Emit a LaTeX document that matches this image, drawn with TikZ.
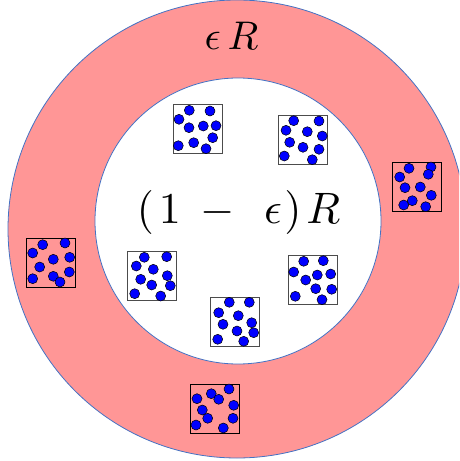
\documentclass[tikz,border=0pt]{standalone}
\usepackage{tikz}
\usetikzlibrary{positioning}
\definecolor{ringpink}{RGB}{255,150,150}
\definecolor{edgeblue}{RGB}{68,114,196}

\begin{document}
\begin{tikzpicture}[x=1pt, y=-1pt,
    ring/.style={fill=ringpink, draw=edgeblue, line width=0.8pt},
    hole/.style={fill=white, draw=edgeblue, line width=0.8pt},
    cell/.style={draw=black!70, rectangle, minimum width=49pt, minimum height=49pt, inner sep=0pt, line width=0.9pt},
    shellcell/.style={cell, draw=black},
    particle/.style={draw=black, fill=blue, line width=0.5pt},
    label/.style={anchor=base, inner sep=0pt},
]

\useasboundingbox (0,0) rectangle (459,461);
\clip (0,0) rectangle (459,461);

% Shell and core
\draw[ring] (237,229) circle (229pt);
\draw[hole] (238,221) circle (143pt);

\node[label, scale=4.0] (shell) at (231.5,49) {$\epsilon\mkern3mu R$};
\node[label, scale=4.4] (core) at (238.5,223) {$(\mkern2mu 1\mkern4mu-\mkern8mu\epsilon\mkern1mu)\mkern2mu R$};

% Cells inside the core
\node[cell] (c1) at (197.5,129.3) {};
\node[cell] (c2) at (303.3,139.8) {};
\node[cell] (c3) at (151.8,276.2) {};
\node[cell] (c4) at (313.2,279.8) {};
\node[cell] (c5) at (234.7,321.7) {};

% Cells in the shell
\node[shellcell] (s1) at (417.2,186.8) {};
\node[shellcell] (s2) at (51,262.5) {};
\node[shellcell] (s3) at (214.5,408.8) {};

% Particles
\foreach \x/\y in {189.3/110.3, 210/111, 179/119.3, 189/127.7, 203.3/126, 216/125.7, 212.7/137.7, 178.3/145.7, 193.7/142.7, 206/148.7}
  \draw[particle] (\x,\y) circle (5pt);
\foreach \x/\y in {293.7/120.7, 319/121, 286/130.3, 307.3/131.7, 322.3/136, 289.7/142.3, 303/147.3, 319/149.3, 284.3/156, 312.3/159.7}
  \draw[particle] (\x,\y) circle (5pt);
\foreach \x/\y in {144.3/257.3, 166.7/256.7, 136.3/266, 153.3/269.3, 167.3/275.7, 140.7/279.3, 151.7/285, 170.3/285.7, 134.7/293.7, 160.7/296}
  \draw[particle] (\x,\y) circle (5pt);
\foreach \x/\y in {303.7/261.3, 323.3/260.7, 293.7/272, 305.7/280, 317.3/275, 330.7/274, 315.7/288.7, 331.7/289.3, 295.3/296.3, 322/299.7}
  \draw[particle] (\x,\y) circle (5pt);
\foreach \x/\y in {229.3/302.3, 249.3/302.3, 218.7/312.7, 238.3/315.7, 223/324.3, 251.7/322.7, 237/331, 253.7/332.7, 217.7/339.3, 243.7/341.3}
  \draw[particle] (\x,\y) circle (5pt);
\foreach \x/\y in {409/168.3, 431/167, 399.7/177, 428.3/174.3, 405/187.7, 420.3/187, 431.3/195.3, 412.3/200.7, 403.7/205, 425.7/206.7}
  \draw[particle] (\x,\y) circle (5pt);
\foreach \x/\y in {42.7/244.7, 65/243, 32.7/253, 53.3/259.3, 69.7/257.3, 39.7/267, 69.3/272, 32.7/278.7, 53.3/276.3, 60/282}
  \draw[particle] (\x,\y) circle (5pt);
\foreach \x/\y in {229/389, 211.3/393.7, 218.7/399.3, 197/398.7, 233.7/405.3, 202.3/410, 207.7/418.3, 233/418.3, 196/425, 223.3/428}
  \draw[particle] (\x,\y) circle (5pt);

\end{tikzpicture}
\end{document}
